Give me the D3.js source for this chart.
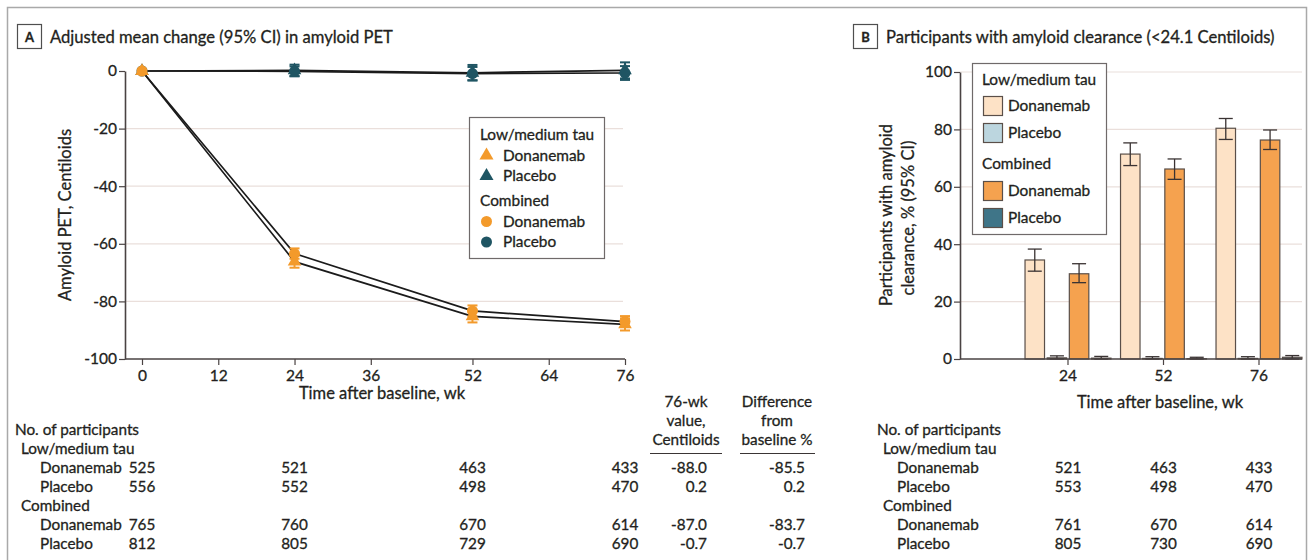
<!DOCTYPE html>
<html>
<head>
<meta charset="utf-8">
<script src="https://cdn.jsdelivr.net/npm/d3@7"></script>
<style>
  body { margin: 0; background: #ffffff; }
  svg text { font-family: Lato, "Open Sans", sans-serif; fill: #231f20; stroke: #231f20; stroke-width: 0.3px; }
</style>
</head>
<body>
<svg id="fig" width="1314" height="560"></svg>
<script>
// ---------- Panel A: adjusted mean change in amyloid PET (Centiloids) ----------
const weeksA = [0, 24, 52, 76];
const xTicksA = [0, 12, 24, 36, 52, 64, 76];
const yTicksA = [0, -20, -40, -60, -80, -100];

const lowDonMean = [0, -66.2, -85.2, -88.0];
const lowDonLo   = [0, -68.3, -87.3, -90.1];
const lowDonHi   = [0, -64.1, -83.1, -85.9];
const lowPlaMean = [0, 0.2, -0.6, 0.2];
const lowPlaLo   = [0, -1.8, -3.3, -2.6];
const lowPlaHi   = [0, 2.2, 2.1, 3.0];
const comDonMean = [0, -63.4, -83.3, -87.0];
const comDonLo   = [0, -65.2, -85.2, -88.9];
const comDonHi   = [0, -61.6, -81.4, -85.1];
const comPlaMean = [0, -0.1, -0.9, -0.7];
const comPlaLo   = [0, -1.8, -3.2, -3.1];
const comPlaHi   = [0, 1.6, 1.4, 1.7];

// participants at risk, panel A (weeks 0, 24, 52, 76)
const nALowDon = [525, 521, 463, 433];
const nALowPla = [556, 552, 498, 470];
const nAComDon = [765, 760, 670, 614];
const nAComPla = [812, 805, 729, 690];
const pctFromBaseline = [-85.5, 0.2, -83.7, -0.7];

// ---------- Panel B: participants with amyloid clearance (%) ----------
const weeksB = ["24", "52", "76"];
const yTicksB = [0, 20, 40, 60, 80, 100];
const barLowDon   = [34.5, 71.4, 80.4];
const barLowDonLo = [30.6, 67.4, 76.5];
const barLowDonHi = [38.3, 75.3, 83.8];
const barLowPla   = [0.4, 0.2, 0.2];
const barLowPlaLo = [0, 0, 0];
const barLowPlaHi = [1.1, 0.8, 0.8];
const barComDon   = [29.7, 66.2, 76.3];
const barComDonLo = [26.6, 62.6, 73.0];
const barComDonHi = [33.2, 69.7, 79.8];
const barComPla   = [0.3, 0.1, 0.6];
const barComPlaLo = [0, 0, 0];
const barComPlaHi = [0.9, 0.6, 1.2];

const nBLowDon = [521, 463, 433];
const nBLowPla = [553, 498, 470];
const nBComDon = [761, 670, 614];
const nBComPla = [805, 730, 690];

// ---------- styling ----------
const ink = "#231f20";
const axisInk = "#4a4343";
const gridInk = "#eadfdb";
const orange = "#f39a2b";
const teal = "#1f5563";
const barFill = { lowDon: "#fde2c6", lowPla: "#bcd6df", comDon: "#f5a24f", comPla: "#3f7588" };
const barEdge = "#5a4f49";
const fsTick = 15.5, fsLabel = 16.5, fsTable = 15.3, fsLegend = 15.4, fsTitle = 16.6;

const svg = d3.select("#fig");
const fmt = d => String(d);

// outer frame
svg.append("rect")
  .attr("x", 7.5).attr("y", 7.5).attr("width", 1299).attr("height", 620)
  .attr("fill", "none").attr("stroke", "#a9a9a9").attr("stroke-width", 1.5);

function panelHeader(x, letter, title) {
  svg.append("rect").attr("x", x + 0.5).attr("y", 24.5).attr("width", 24).attr("height", 24)
    .attr("fill", "#fff").attr("stroke", "#4f4f4f").attr("stroke-width", 1.2);
  svg.append("text").attr("x", x + 12.5).attr("y", 41.5).attr("text-anchor", "middle")
    .attr("font-size", 13).attr("font-weight", 700).text(letter);
  svg.append("text").attr("x", x + 33).attr("y", 43).attr("font-size", fsTitle).text(title);
}

function styleAxis(g) {
  g.selectAll("path.domain").attr("stroke", axisInk).attr("stroke-width", 1.6);
  g.selectAll(".tick line").attr("stroke", axisInk).attr("stroke-width", 1.2);
  g.selectAll(".tick text").attr("fill", ink).attr("font-size", fsTick)
    .style("font-family", "Lato, 'Open Sans', sans-serif");
}

// ================= Panel A =================
panelHeader(17, "A", "Adjusted mean change (95% CI) in amyloid PET");

const xA = d3.scaleLinear().domain([0, 76]).range([142, 625]);
const yA = d3.scaleLinear().domain([-100, 0]).range([359, 71]);
const gA = svg.append("g");

gA.selectAll("line.grid").data(yTicksA.filter(v => v < 0 && v > -100)).join("line")
  .attr("class", "grid")
  .attr("x1", 125).attr("x2", 623)
  .attr("y1", d => yA(d)).attr("y2", d => yA(d))
  .attr("stroke", gridInk).attr("stroke-width", 1.2);

const yAxA = gA.append("g").attr("transform", "translate(125,0)")
  .call(d3.axisLeft(yA).tickValues(yTicksA).tickFormat(fmt).tickSize(6).tickSizeOuter(0).tickPadding(2));
styleAxis(yAxA);

const xAxA = gA.append("g").attr("transform", "translate(0,359)")
  .call(d3.axisBottom(xA).tickValues(xTicksA).tickFormat(fmt).tickSize(6).tickSizeOuter(0).tickPadding(5));
xAxA.select("path.domain").remove();
styleAxis(xAxA);
gA.append("line").attr("x1", 125).attr("x2", 625).attr("y1", 359).attr("y2", 359)
  .attr("stroke", axisInk).attr("stroke-width", 1.6);

gA.append("text").attr("transform", "translate(71,215) rotate(-90)")
  .attr("text-anchor", "middle").attr("font-size", fsLabel).text("Amyloid PET, Centiloids");
gA.append("text").attr("x", 382).attr("y", 399)
  .attr("text-anchor", "middle").attr("font-size", fsLabel).text("Time after baseline, wk");

function seriesA(mean, lo, hi, color, shape) {
  return weeksA.map((w, i) => ({ w, v: mean[i], lo: lo[i], hi: hi[i], color, shape }));
}
const seriesListA = [
  seriesA(lowPlaMean, lowPlaLo, lowPlaHi, teal, "tri"),
  seriesA(comPlaMean, comPlaLo, comPlaHi, teal, "circ"),
  seriesA(lowDonMean, lowDonLo, lowDonHi, orange, "tri"),
  seriesA(comDonMean, comDonLo, comDonHi, orange, "circ")
];

const lineA = d3.line().x(d => xA(d.w)).y(d => yA(d.v));
gA.selectAll("path.trend").data(seriesListA).join("path")
  .attr("class", "trend").attr("d", lineA)
  .attr("fill", "none").attr("stroke", "#1b1b1b").attr("stroke-width", 1.7);

const triSym = d3.symbol(d3.symbolTriangle, 80);
seriesListA.forEach(s => {
  const pts = s.filter(d => d.w > 0);
  const eb = gA.append("g");
  eb.selectAll("line.v").data(pts).join("line")
    .attr("x1", d => xA(d.w)).attr("x2", d => xA(d.w))
    .attr("y1", d => yA(d.lo)).attr("y2", d => yA(d.hi))
    .attr("stroke", s[0].color).attr("stroke-width", 2);
  ["lo", "hi"].forEach(k => {
    eb.selectAll("line.c" + k).data(pts).join("line")
      .attr("x1", d => xA(d.w) - 5).attr("x2", d => xA(d.w) + 5)
      .attr("y1", d => yA(d[k])).attr("y2", d => yA(d[k]))
      .attr("stroke", s[0].color).attr("stroke-width", 2);
  });
});
seriesListA.forEach(s => {
  if (s[0].shape === "circ") {
    gA.selectAll(null).data(s).join("circle")
      .attr("cx", d => xA(d.w)).attr("cy", d => yA(d.v)).attr("r", 5.5)
      .attr("fill", d => d.color);
  } else {
    gA.selectAll(null).data(s).join("path")
      .attr("transform", d => `translate(${xA(d.w)},${yA(d.v)})`)
      .attr("d", triSym).attr("fill", d => d.color);
  }
});

// legend A
const legA = gA.append("g");
legA.append("rect").attr("x", 469.5).attr("y", 117.5).attr("width", 135).attr("height", 141)
  .attr("fill", "#fff").attr("stroke", "#6f6a6a").attr("stroke-width", 1.2);
const legAItems = [
  { t: "Low/medium tau", y: 140, head: true },
  { t: "Donanemab", y: 160.5, c: orange, shape: "tri" },
  { t: "Placebo", y: 181, c: teal, shape: "tri" },
  { t: "Combined", y: 205.5, head: true },
  { t: "Donanemab", y: 226.5, c: orange, shape: "circ" },
  { t: "Placebo", y: 247, c: teal, shape: "circ" }
];
legAItems.forEach(it => {
  legA.append("text").attr("x", it.head ? 480 : 503).attr("y", it.y)
    .attr("font-size", fsLegend).text(it.t);
  if (it.shape === "tri") {
    legA.append("path").attr("transform", `translate(486.5,${it.y - 5})`)
      .attr("d", d3.symbol(d3.symbolTriangle, 85)).attr("fill", it.c);
  } else if (it.shape === "circ") {
    legA.append("circle").attr("cx", 486.5).attr("cy", it.y - 5).attr("r", 5.5).attr("fill", it.c);
  }
});

// participants table A
const rowY = d3.range(7).map(i => 435 + 19 * i);
const tA = svg.append("g");
const labelsA = [
  { t: "No. of participants", x: 15 },
  { t: "Low/medium tau", x: 21 },
  { t: "Donanemab", x: 40 },
  { t: "Placebo", x: 40 },
  { t: "Combined", x: 21 },
  { t: "Donanemab", x: 40 },
  { t: "Placebo", x: 40 }
];
labelsA.forEach((l, i) => tA.append("text").attr("x", l.x).attr("y", rowY[i]).attr("font-size", fsTable).text(l.t));

const countRowsA = [
  { n: nALowDon, r: 2, mean: lowDonMean, pct: pctFromBaseline[0] },
  { n: nALowPla, r: 3, mean: lowPlaMean, pct: pctFromBaseline[1] },
  { n: nAComDon, r: 5, mean: comDonMean, pct: pctFromBaseline[2] },
  { n: nAComPla, r: 6, mean: comPlaMean, pct: pctFromBaseline[3] }
];
countRowsA.forEach(row => {
  tA.selectAll(null).data(row.n).join("text")
    .attr("x", (d, i) => xA(weeksA[i])).attr("y", rowY[row.r])
    .attr("text-anchor", "middle").attr("font-size", fsTable).text(d => d);
  tA.append("text").attr("x", 707).attr("y", rowY[row.r]).attr("text-anchor", "end")
    .attr("font-size", fsTable).text(row.mean[row.mean.length - 1].toFixed(1));
  tA.append("text").attr("x", 805).attr("y", rowY[row.r]).attr("text-anchor", "end")
    .attr("font-size", fsTable).text(row.pct.toFixed(1));
});
[["76-wk", "value,", "Centiloids", 686, 650, 722], ["Difference", "from", "baseline %", 777, 740, 815]]
  .forEach(([a, b, c, cx, x1, x2]) => {
    [a, b, c].forEach((t, i) => tA.append("text").attr("x", cx).attr("y", 407 + 19 * i)
      .attr("text-anchor", "middle").attr("font-size", fsTable).text(t));
    tA.append("line").attr("x1", x1).attr("x2", x2).attr("y1", 453.5).attr("y2", 453.5)
      .attr("stroke", "#3a3535").attr("stroke-width", 1.2);
  });

// ================= Panel B =================
panelHeader(853, "B", "Participants with amyloid clearance (<24.1 Centiloids)");

const yB = d3.scaleLinear().domain([0, 100]).range([359, 72]);
const xB = d3.scaleBand().domain(weeksB).range([1020.25, 1306.75]).paddingInner(0.1).paddingOuter(0.05);
const groupKeys = ["lowDon", "lowPla", "comDon", "comPla"];
const xSub = d3.scaleBand().domain(groupKeys).range([0, xB.bandwidth()]).paddingInner(0.12);
const gB = svg.append("g");

gB.selectAll("line.grid").data(yTicksB.filter(v => v > 0)).join("line")
  .attr("class", "grid")
  .attr("x1", 960).attr("x2", 1302)
  .attr("y1", d => yB(d)).attr("y2", d => yB(d))
  .attr("stroke", gridInk).attr("stroke-width", 1.2);

const barData = [];
const barSrc = {
  lowDon: [barLowDon, barLowDonLo, barLowDonHi],
  lowPla: [barLowPla, barLowPlaLo, barLowPlaHi],
  comDon: [barComDon, barComDonLo, barComDonHi],
  comPla: [barComPla, barComPlaLo, barComPlaHi]
};
weeksB.forEach((w, i) => groupKeys.forEach(k => {
  barData.push({ w, k, v: barSrc[k][0][i], lo: barSrc[k][1][i], hi: barSrc[k][2][i] });
}));

gB.selectAll("rect.bar").data(barData).join("rect")
  .attr("class", "bar")
  .attr("x", d => xB(d.w) + xSub(d.k))
  .attr("width", xSub.bandwidth())
  .attr("y", d => yB(d.v))
  .attr("height", d => yB(0) - yB(d.v))
  .attr("fill", d => barFill[d.k])
  .attr("stroke", barEdge).attr("stroke-width", 1.2);

const cx = d => xB(d.w) + xSub(d.k) + xSub.bandwidth() / 2;
gB.selectAll("line.ebv").data(barData).join("line")
  .attr("x1", cx).attr("x2", cx).attr("y1", d => yB(d.lo)).attr("y2", d => yB(d.hi))
  .attr("stroke", "#3a3333").attr("stroke-width", 1.3);
["lo", "hi"].forEach(key => {
  gB.selectAll("line.cap" + key).data(barData).join("line")
    .attr("x1", d => cx(d) - 7).attr("x2", d => cx(d) + 7)
    .attr("y1", d => yB(d[key])).attr("y2", d => yB(d[key]))
    .attr("stroke", "#3a3333").attr("stroke-width", 1.3);
});

const yAxB = gB.append("g").attr("transform", "translate(960,0)")
  .call(d3.axisLeft(yB).tickValues(yTicksB).tickFormat(fmt).tickSize(6).tickSizeOuter(0).tickPadding(2));
styleAxis(yAxB);
const xAxB = gB.append("g").attr("transform", "translate(0,359)")
  .call(d3.axisBottom(xB).tickSize(6).tickSizeOuter(0).tickPadding(5));
xAxB.select("path.domain").remove();
styleAxis(xAxB);
gB.append("line").attr("x1", 960).attr("x2", 1302).attr("y1", 359).attr("y2", 359)
  .attr("stroke", axisInk).attr("stroke-width", 1.6);

gB.append("text").attr("transform", "translate(892,215) rotate(-90)")
  .attr("text-anchor", "middle").attr("font-size", fsLabel).text("Participants with amyloid");
gB.append("text").attr("transform", "translate(914,218) rotate(-90)")
  .attr("text-anchor", "middle").attr("font-size", fsLabel).text("clearance, % (95% CI)");
gB.append("text").attr("x", 1160).attr("y", 408)
  .attr("text-anchor", "middle").attr("font-size", fsLabel).text("Time after baseline, wk");

// legend B
const legB = gB.append("g");
legB.append("rect").attr("x", 972.5).attr("y", 63.5).attr("width", 134).attr("height", 171)
  .attr("fill", "#fff").attr("stroke", "#6f6a6a").attr("stroke-width", 1.2);
const legBItems = [
  { t: "Low/medium tau", y: 85, head: true },
  { t: "Donanemab", y: 111, k: "lowDon" },
  { t: "Placebo", y: 138, k: "lowPla" },
  { t: "Combined", y: 169, head: true },
  { t: "Donanemab", y: 196, k: "comDon" },
  { t: "Placebo", y: 223, k: "comPla" }
];
legBItems.forEach(it => {
  legB.append("text").attr("x", it.head ? 982 : 1008).attr("y", it.y).attr("font-size", fsLegend).text(it.t);
  if (!it.head) {
    legB.append("rect").attr("x", 983.5).attr("y", it.y - 14.5).attr("width", 19).attr("height", 19)
      .attr("fill", barFill[it.k]).attr("stroke", barEdge).attr("stroke-width", 1.2);
  }
});

// participants table B
const tB = svg.append("g");
const labelsB = [
  { t: "No. of participants", x: 877 },
  { t: "Low/medium tau", x: 883 },
  { t: "Donanemab", x: 897 },
  { t: "Placebo", x: 897 },
  { t: "Combined", x: 883 },
  { t: "Donanemab", x: 897 },
  { t: "Placebo", x: 897 }
];
labelsB.forEach((l, i) => tB.append("text").attr("x", l.x).attr("y", rowY[i]).attr("font-size", fsTable).text(l.t));
[[nBLowDon, 2], [nBLowPla, 3], [nBComDon, 5], [nBComPla, 6]].forEach(([n, r]) => {
  tB.selectAll(null).data(n).join("text")
    .attr("x", (d, i) => xB(weeksB[i]) + xB.bandwidth() / 2).attr("y", rowY[r])
    .attr("text-anchor", "middle").attr("font-size", fsTable).text(d => d);
});
</script>
</body>
</html>
